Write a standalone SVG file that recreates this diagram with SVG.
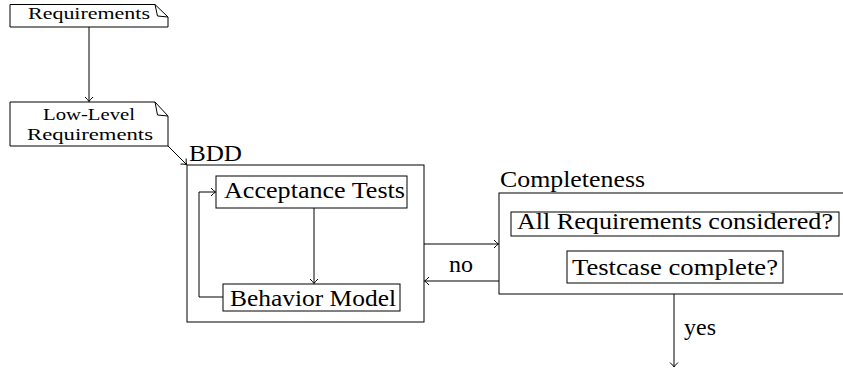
<svg xmlns="http://www.w3.org/2000/svg" width="843" height="368" viewBox="0 0 843 368">
  <defs>
    <marker id="arrow" markerUnits="userSpaceOnUse" markerWidth="12" markerHeight="12" viewBox="-6 -6 12 12" refX="0" refY="0" orient="auto">
      <path d="M -4.5,-4 Q -1.5,-0.8 0,0 Q -1.5,0.8 -4.5,4" fill="none" stroke="#000" stroke-width="1"/>
    </marker>
    <style>
      .box { fill: #fff; stroke: #000; stroke-width: 1; }
      .frame { fill: none; stroke: #000; stroke-width: 1; }
      .fold { fill: none; stroke: #000; stroke-width: 1; stroke-linejoin: round; }
      .edge { fill: none; stroke: #000; stroke-width: 1; marker-end: url(#arrow); }
      text { fill: #000; font-family: "Liberation Serif", "DejaVu Serif", serif; }
      .small { font-size: 16px; }
      .lbl { font-size: 23px; }
    </style>
  </defs>

  <!-- requirements document -->
  <g id="requirements">
    <path class="box" d="M 10,4.5 L 155,4.5 L 168,17 L 168,27 L 10,27 Z"/>
    <path class="fold" d="M 155,4.5 L 157.5,16 L 168,17"/>
    <text class="small" x="28" y="19" textLength="122" lengthAdjust="spacingAndGlyphs">Requirements</text>
  </g>

  <!-- low-level requirements document -->
  <g id="low-level-requirements">
    <path class="box" d="M 10,102 L 155,102 L 168,116 L 168,146 L 10,146 Z"/>
    <path class="fold" d="M 155,102 L 157.5,115 L 168,116"/>
    <text class="small" x="43" y="120" textLength="92" lengthAdjust="spacingAndGlyphs">Low-Level</text>
    <text class="small" x="27" y="140" textLength="126" lengthAdjust="spacingAndGlyphs">Requirements</text>
  </g>

  <!-- BDD container -->
  <g id="bdd">
    <rect class="frame" x="187" y="165" width="237" height="157"/>
    <text class="lbl" x="189" y="161" textLength="53" lengthAdjust="spacingAndGlyphs">BDD</text>
  </g>

  <g id="acceptance-tests">
    <rect class="box" x="216" y="176" width="191" height="32"/>
    <text class="lbl" x="224" y="198" textLength="181" lengthAdjust="spacingAndGlyphs">Acceptance Tests</text>
  </g>

  <g id="behavior-model">
    <rect class="box" x="223" y="284" width="177" height="27"/>
    <text class="lbl" x="230" y="306" textLength="166" lengthAdjust="spacingAndGlyphs">Behavior Model</text>
  </g>

  <!-- completeness container -->
  <g id="completeness">
    <rect class="frame" x="499" y="193" width="350" height="101"/>
    <text class="lbl" x="500" y="187" textLength="145" lengthAdjust="spacingAndGlyphs">Completeness</text>
  </g>

  <g id="all-requirements">
    <rect class="box" x="511" y="212" width="328" height="24"/>
    <text class="lbl" x="517" y="229" textLength="316" lengthAdjust="spacingAndGlyphs">All Requirements considered?</text>
  </g>

  <g id="testcase-complete">
    <rect class="box" x="567" y="251" width="216" height="32"/>
    <text class="lbl" x="572" y="275" textLength="206" lengthAdjust="spacingAndGlyphs">Testcase complete?</text>
  </g>

  <!-- connectors -->
  <g id="connectors">
    <path class="edge" d="M 89,27 L 89,101.5"/>
    <path class="edge" d="M 168,146 L 186.5,164.5"/>
    <path class="edge" d="M 314,208 L 314,283.5"/>
    <path class="edge" d="M 223,297 L 199,297 L 199,192 L 215.5,192"/>
    <path class="edge" d="M 424,244 L 498.5,244"/>
    <path class="edge" d="M 499,281 L 424.5,281"/>
    <path class="edge" d="M 674,294 L 674,367"/>
    <text class="lbl" x="449" y="272" textLength="24" lengthAdjust="spacingAndGlyphs">no</text>
    <text class="lbl" x="684" y="335" textLength="32" lengthAdjust="spacingAndGlyphs">yes</text>
  </g>
</svg>
